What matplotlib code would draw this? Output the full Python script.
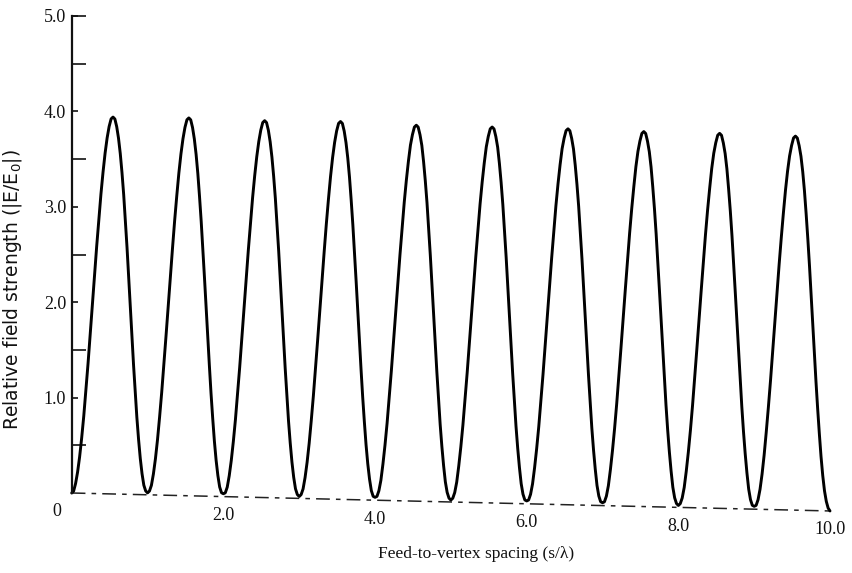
import numpy as np
import matplotlib
matplotlib.use("Agg")
import matplotlib.pyplot as plt
from matplotlib.transforms import Affine2D, ScaledTranslation
from matplotlib.ticker import FixedLocator

# ---------------- data ----------------
# feed-to-vertex spacing s/lambda, sampled every 0.025
spacing = np.round(np.arange(0, 401) * 0.025, 3)

# relative field strength |E/E0| at each sample (one row per lobe)
field_strength = [
    0.00, 0.02, 0.10, 0.22, 0.38, 0.58, 0.81, 1.08, 1.36, 1.67, 1.98, 2.28, 2.59, 2.87, 3.14, 3.37, 3.57, 3.73, 3.85, 3.93,
    3.95, 3.93, 3.85, 3.73, 3.57, 3.37, 3.14, 2.87, 2.59, 2.28, 1.98, 1.67, 1.36, 1.08, 0.81, 0.58, 0.38, 0.22, 0.10, 0.04,
    0.02, 0.04, 0.10, 0.22, 0.38, 0.58, 0.82, 1.08, 1.37, 1.67, 1.98, 2.29, 2.59, 2.88, 3.14, 3.38, 3.58, 3.74, 3.86, 3.94,
    3.96, 3.94, 3.86, 3.74, 3.58, 3.38, 3.14, 2.88, 2.59, 2.29, 1.98, 1.67, 1.37, 1.08, 0.82, 0.58, 0.38, 0.22, 0.10, 0.04,
    0.03, 0.04, 0.10, 0.22, 0.38, 0.58, 0.81, 1.08, 1.36, 1.67, 1.98, 2.28, 2.59, 2.87, 3.14, 3.37, 3.57, 3.73, 3.85, 3.93,
    3.95, 3.93, 3.85, 3.73, 3.57, 3.37, 3.14, 2.87, 2.59, 2.28, 1.98, 1.67, 1.36, 1.08, 0.81, 0.58, 0.38, 0.22, 0.10, 0.04,
    0.02, 0.04, 0.10, 0.22, 0.38, 0.58, 0.82, 1.08, 1.37, 1.67, 1.98, 2.29, 2.59, 2.88, 3.14, 3.38, 3.58, 3.74, 3.86, 3.94,
    3.96, 3.94, 3.86, 3.74, 3.58, 3.38, 3.14, 2.88, 2.59, 2.29, 1.98, 1.67, 1.37, 1.08, 0.82, 0.58, 0.38, 0.22, 0.10, 0.04,
    0.03, 0.04, 0.10, 0.21, 0.38, 0.58, 0.81, 1.08, 1.36, 1.66, 1.97, 2.28, 2.58, 2.86, 3.13, 3.36, 3.56, 3.73, 3.84, 3.92,
    3.94, 3.92, 3.84, 3.73, 3.56, 3.36, 3.13, 2.86, 2.58, 2.28, 1.97, 1.66, 1.36, 1.08, 0.81, 0.58, 0.38, 0.21, 0.10, 0.04,
    0.02, 0.04, 0.10, 0.21, 0.38, 0.58, 0.81, 1.08, 1.36, 1.66, 1.97, 2.28, 2.58, 2.86, 3.13, 3.36, 3.56, 3.73, 3.84, 3.92,
    3.94, 3.92, 3.84, 3.73, 3.56, 3.36, 3.13, 2.86, 2.58, 2.28, 1.97, 1.66, 1.36, 1.08, 0.81, 0.58, 0.38, 0.21, 0.10, 0.04,
    0.03, 0.04, 0.10, 0.21, 0.38, 0.58, 0.81, 1.08, 1.36, 1.66, 1.97, 2.28, 2.58, 2.86, 3.13, 3.36, 3.56, 3.73, 3.84, 3.92,
    3.94, 3.92, 3.84, 3.73, 3.56, 3.36, 3.13, 2.86, 2.58, 2.28, 1.97, 1.66, 1.36, 1.08, 0.81, 0.58, 0.38, 0.21, 0.10, 0.04,
    0.03, 0.04, 0.10, 0.21, 0.38, 0.58, 0.81, 1.07, 1.36, 1.66, 1.97, 2.27, 2.57, 2.86, 3.12, 3.35, 3.56, 3.72, 3.83, 3.91,
    3.93, 3.91, 3.83, 3.72, 3.56, 3.35, 3.12, 2.86, 2.57, 2.27, 1.97, 1.66, 1.36, 1.07, 0.81, 0.58, 0.38, 0.21, 0.10, 0.04,
    0.02, 0.04, 0.10, 0.21, 0.38, 0.58, 0.81, 1.07, 1.36, 1.66, 1.97, 2.27, 2.57, 2.86, 3.12, 3.35, 3.56, 3.72, 3.83, 3.91,
    3.93, 3.91, 3.83, 3.72, 3.56, 3.35, 3.12, 2.86, 2.57, 2.27, 1.97, 1.66, 1.36, 1.07, 0.81, 0.58, 0.38, 0.21, 0.10, 0.04,
    0.03, 0.04, 0.10, 0.21, 0.37, 0.57, 0.81, 1.07, 1.35, 1.65, 1.96, 2.27, 2.57, 2.85, 3.11, 3.35, 3.55, 3.71, 3.82, 3.90,
    3.92, 3.90, 3.82, 3.71, 3.55, 3.35, 3.11, 2.85, 2.57, 2.27, 1.96, 1.65, 1.35, 1.07, 0.81, 0.57, 0.37, 0.21, 0.10, 0.03,
    0.00,
]

x_ticks = [0, 2, 4, 6, 8, 10]
x_tick_labels = ["0", "2.0", "4.0", "6.0", "8.0", "10.0"]
y_ticks = [1, 2, 3, 4, 5]
y_tick_labels = ["1.0", "2.0", "3.0", "4.0", "5.0"]
y_minor_ticks = [0.5, 1.5, 2.5, 3.5, 4.5, 5.0]

x_label = "Feed-to-vertex spacing (s/\u03bb)"
y_label = "Relative field strength (|E/E$_0$|)"

# ---------------- figure ----------------
W, H, DPI = 853, 573, 100
fig = plt.figure(figsize=(W / DPI, H / DPI), dpi=DPI)
fig.patch.set_facecolor("white")

ax = fig.add_axes([71.7 / W, 80 / H, 758.3 / W, 477 / H])
ax.set_xlim(0, 10)
ax.set_ylim(0, 5)
for side in ("top", "right", "bottom"):
    ax.spines[side].set_visible(False)
ax.spines["left"].set_linewidth(1.6)
ax.spines["left"].set_color("#111111")

serif = "Liberation Serif"
ax.set_xticks([])
ax.set_yticks(y_ticks)
ax.set_yticklabels(y_tick_labels, fontfamily=serif, fontsize=13, color="#111111")
ax.yaxis.set_minor_locator(FixedLocator(y_minor_ticks))
ax.yaxis.remove_overlapping_locs = False
ax.tick_params(axis="y", which="major", direction="in", length=4, width=1.2, pad=4, color="#111111")
ax.tick_params(axis="y", which="minor", direction="in", length=10, width=1.2, color="#111111")

# the scanned page is slightly skewed: apply the same shear to the drawn data
origin = ax.transData.transform((0, 0))
skew = (Affine2D().translate(-origin[0], -origin[1])
        + Affine2D.from_values(1, -0.0237, 0.009, 1, 0, 0)
        + Affine2D().translate(origin[0], origin[1]))
skew_data = ax.transData + skew

# dashed zero line
ax.plot(ax.get_xlim(), (0, 0), color="#222222", lw=1.1,
        linestyle=(0, (9, 4, 3, 4)), transform=skew_data, clip_on=False)

# field-strength curve
ax.plot(spacing, field_strength, color="black", lw=2.1, transform=skew_data,
        clip_on=False, solid_joinstyle="round", solid_capstyle="round")

# x tick labels (follow the skewed baseline)
for xv, lab in zip(x_ticks, x_tick_labels):
    dx = -0.15 if xv == 0 else 0.0
    ax.text(xv, 0, lab, transform=skew_data + ScaledTranslation(dx, -0.19, fig.dpi_scale_trans),
            ha="center", va="center", fontfamily=serif, fontsize=13, color="#111111")

fig.text(476 / W, 1 - 554 / H, x_label, ha="center", va="center",
         fontfamily=serif, fontsize=12.5, color="#111111")
fig.text(13 / W, 1 - 290 / H, y_label, ha="center", va="center", rotation=90,
         fontfamily="DejaVu Sans", fontsize=13.5, color="#111111")

fig.savefig("out.png", dpi=DPI, facecolor="white")
